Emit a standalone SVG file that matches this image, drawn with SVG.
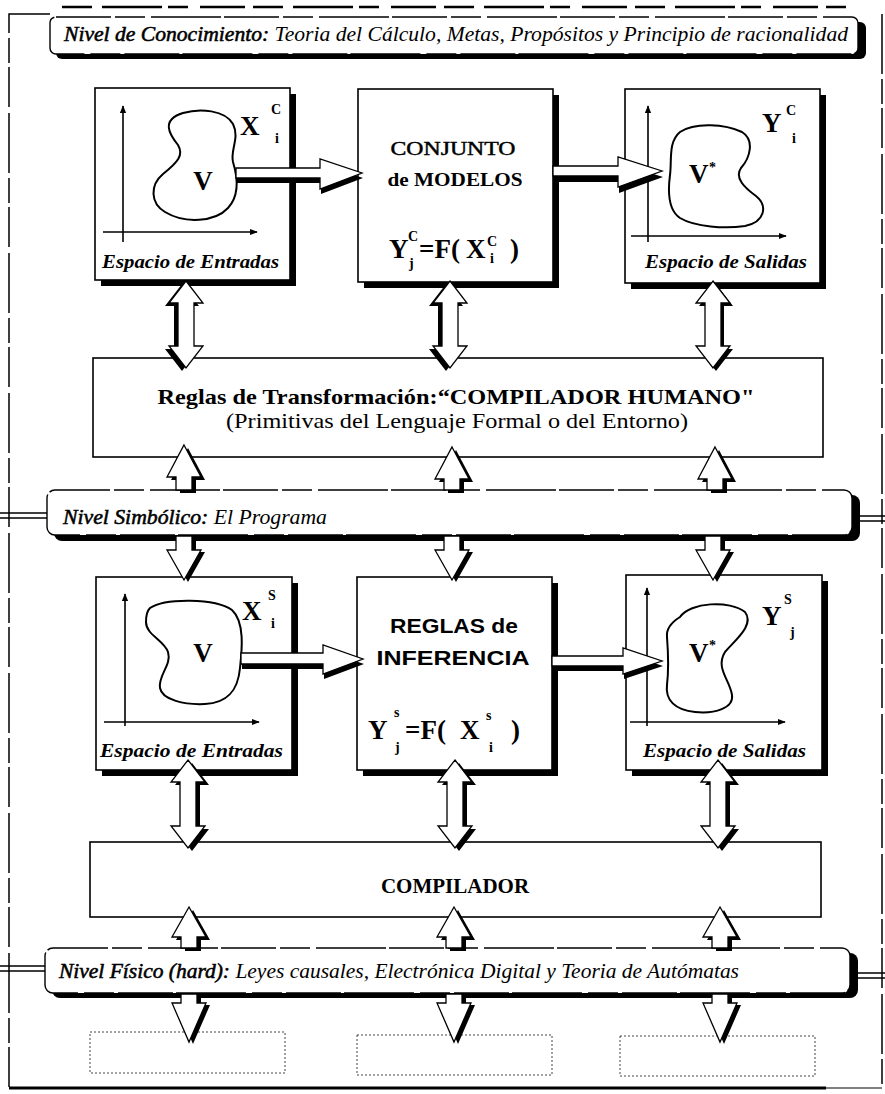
<svg xmlns="http://www.w3.org/2000/svg" width="885" height="1094" viewBox="0 0 885 1094">
  <defs>
    <style>
      .frame { fill: none; stroke: #000; stroke-width: 1.5; stroke-dasharray: 60 5 25 4 40 6; }
      .box { fill: #fff; stroke: #000; stroke-width: 1.6; }
      .shadow { fill: #000; }
      .rule { fill: #fff; stroke: #000; stroke-width: 1.6; }
      .dotted { fill: none; stroke: #444; stroke-width: 1; stroke-dasharray: 2 2; }
      .band { fill: #fff; stroke: #000; stroke-width: 1.4; stroke-dasharray: 55 4 30 6 70 3; }
      .axis { stroke: #000; stroke-width: 1.6; fill: none; }
      .blob { fill: #fff; stroke: #000; stroke-width: 2; }
      .arrow { fill: #fff; stroke: #000; stroke-width: 1.3; stroke-linejoin: miter; }
      .arrow-sh { fill: #000; }
      .link { stroke: #000; stroke-width: 1.5; fill: none; }
      .lvl { font-family: "Liberation Serif", serif; font-style: italic; font-size: 21px; }
      .lvl .h { stroke: #000; stroke-width: 0.55px; }
      .cap { font-family: "Liberation Serif", serif; font-style: italic; font-weight: bold; font-size: 18px; }
      .sym { font-family: "Liberation Serif", serif; font-weight: bold; font-size: 27px; }
      .idx { font-family: "Liberation Serif", serif; font-weight: bold; font-size: 14px; }
      .title { font-family: "Liberation Serif", serif; font-size: 19px; text-anchor: middle; }
      .semi { stroke: #000; stroke-width: 0.45px; }
      .sans { font-family: "Liberation Sans", sans-serif; font-weight: bold; font-size: 21px; text-anchor: middle; }
      .rtxt { font-family: "Liberation Serif", serif; font-size: 21px; text-anchor: middle; }
    </style>
    <marker id="ah" viewBox="0 0 10 10" refX="9" refY="5" markerWidth="5" markerHeight="5" orient="auto">
      <path d="M0,1 L10,5 L0,9 Z" fill="#000"/>
    </marker>
  </defs>

  <rect width="885" height="1094" fill="#fff"/>

  <!-- outer frame -->
  <g id="frame">
    <path class="frame" d="M50,14 H9 V1088"/>
    <path d="M9,1088 H826" stroke="#000" stroke-width="3"/>
    <path d="M826,1088 H882" stroke="#000" stroke-width="1.2"/>
    <path class="frame" d="M882,14 V1088" stroke-width="1"/>
    <path d="M62,7 H846" stroke="#000" stroke-width="2.5" stroke-dasharray="30 10 60 6 20 12 45 8"/>
    <!-- double rails that tie the level bands to the frame -->
    <path class="link" d="M0,513 H47 M0,518 H47"/>
    <path class="link" d="M860,516 H885 M860,521 H885"/>
    <path class="link" d="M0,966 H45 M0,971 H45"/>
    <path class="link" d="M858,973 H885 M858,978 H885"/>
  </g>

  <!-- level bands -->
  <g id="level-knowledge">
    <rect class="shadow" x="56" y="22" width="810" height="37" rx="6"/>
    <rect class="band" x="50" y="17" width="808" height="37" rx="6"/>
    <text class="lvl" x="64" y="41" textLength="784" lengthAdjust="spacingAndGlyphs"><tspan class="h">Nivel de Conocimiento:</tspan> Teoria del Cálculo, Metas, Propósitos y Principio de racionalidad</text>
  </g>

  <g id="level-symbolic">
    <rect class="shadow" x="54" y="495" width="806" height="46" rx="8"/>
    <rect class="band" x="47" y="490" width="805" height="45" rx="8"/>
    <text class="lvl" x="63" y="524" textLength="264" lengthAdjust="spacingAndGlyphs"><tspan class="h">Nivel Simbólico:</tspan> El Programa</text>
  </g>

  <g id="level-physical">
    <rect class="shadow" x="52" y="953" width="806" height="45" rx="8"/>
    <rect class="band" x="45" y="948" width="805" height="45" rx="8"/>
    <text class="lvl" x="59" y="978" textLength="680" lengthAdjust="spacingAndGlyphs"><tspan class="h">Nivel Físico (hard):</tspan> Leyes causales, Electrónica Digital y Teoria de Autómatas</text>
  </g>

  <!-- row 1: knowledge level -->
  <g id="input-space-c">
    <rect class="shadow" x="101" y="94" width="195" height="192"/>
    <rect class="box" x="95" y="88" width="195" height="192"/>
    <path class="axis" d="M123,242 V106" marker-end="url(#ah)"/>
    <path class="axis" d="M103,232 H257" marker-end="url(#ah)"/>
    <path class="blob" d="M183,113 C200,108 225,110 233,124 C240,138 230,150 233,162 C237,175 240,195 228,208 C215,222 185,224 165,212 C150,203 150,185 163,174 C178,162 184,155 178,145 C170,135 160,120 183,113 Z"/>
    <text class="sym" x="203" y="190" text-anchor="middle">V</text>
    <text class="sym" x="240" y="135">X</text>
    <text class="idx" x="271" y="114">C</text>
    <text class="idx" x="275" y="143">i</text>
    <text class="cap" x="102" y="268" textLength="177" lengthAdjust="spacingAndGlyphs">Espacio de Entradas</text>
  </g>

  <g id="model-set">
    <rect class="shadow" x="364" y="95" width="195" height="193"/>
    <rect class="box" x="358" y="89" width="195" height="193"/>
    <text class="title semi" x="453" y="155" textLength="125" lengthAdjust="spacingAndGlyphs">CONJUNTO</text>
    <text class="title" x="455" y="186" font-weight="bold" textLength="135" lengthAdjust="spacingAndGlyphs">de MODELOS</text>
    <text class="sym" x="389" y="258" font-size="26">Y</text>
    <text class="idx" x="408" y="241">C</text>
    <text class="idx" x="409" y="268">j</text>
    <text class="sym" x="419" y="258" font-size="26">=F(</text>
    <text class="sym" x="466" y="258" font-size="26">X</text>
    <text class="idx" x="487" y="246">C</text>
    <text class="idx" x="490" y="263">i</text>
    <text class="sym" x="510" y="258" font-size="26">)</text>
  </g>

  <g id="output-space-c">
    <rect class="shadow" x="631" y="95" width="195" height="194"/>
    <rect class="box" x="625" y="89" width="195" height="194"/>
    <path class="axis" d="M648,242 V106" marker-end="url(#ah)"/>
    <path class="axis" d="M631,236 H786" marker-end="url(#ah)"/>
    <path class="blob" d="M680,132 C695,122 725,124 742,132 C755,140 750,158 741,168 C734,178 745,188 756,196 C768,206 765,222 745,226 C725,229 695,227 680,218 C668,210 668,190 670,175 C672,160 668,142 680,132 Z"/>
    <text class="sym" x="689" y="183">V</text>
    <text class="idx" x="709" y="172">*</text>
    <text class="sym" x="762" y="132">Y</text>
    <text class="idx" x="786" y="115">C</text>
    <text class="idx" x="792" y="143">i</text>
    <text class="cap" x="645" y="268" textLength="162" lengthAdjust="spacingAndGlyphs">Espacio de Salidas</text>
  </g>

  <g id="human-compiler">
    <rect class="rule" x="93" y="358" width="730" height="99"/>
    <text class="rtxt" x="456" y="404" font-weight="bold" textLength="597" lengthAdjust="spacingAndGlyphs">Reglas de Transformación:“COMPILADOR HUMANO"</text>
    <text class="rtxt" x="457" y="428" textLength="462" lengthAdjust="spacingAndGlyphs">(Primitivas del Lenguaje Formal o del Entorno)</text>
  </g>

  <!-- row 2: symbolic level -->
  <g id="input-space-s">
    <rect class="shadow" x="102" y="583" width="196" height="193"/>
    <rect class="box" x="96" y="577" width="196" height="193"/>
    <path class="axis" d="M125,726 V594" marker-end="url(#ah)"/>
    <path class="axis" d="M104,722 H259" marker-end="url(#ah)"/>
    <path class="blob" d="M150,608 C165,598 215,598 232,610 C245,622 242,650 240,668 C238,690 228,703 205,704 C185,705 162,700 160,688 C158,675 172,665 168,652 C164,640 146,635 146,622 C146,615 147,611 150,608 Z"/>
    <text class="sym" x="203" y="662" text-anchor="middle">V</text>
    <text class="sym" x="242" y="620">X</text>
    <text class="idx" x="268" y="600">S</text>
    <text class="idx" x="271" y="628">i</text>
    <text class="cap" x="100" y="757" textLength="183" lengthAdjust="spacingAndGlyphs">Espacio de Entradas</text>
  </g>

  <g id="inference-rules">
    <rect class="shadow" x="363" y="583" width="195" height="193"/>
    <rect class="box" x="357" y="577" width="195" height="193"/>
    <text class="sans" x="454" y="633" textLength="128" lengthAdjust="spacingAndGlyphs">REGLAS de</text>
    <text class="sans" x="453" y="665" textLength="153" lengthAdjust="spacingAndGlyphs">INFERENCIA</text>
    <text class="sym" x="368" y="739" font-size="32">Y</text>
    <text class="idx" x="394" y="717" font-size="16">s</text>
    <text class="idx" x="395" y="752" font-size="16">j</text>
    <text class="sym" x="405" y="739" font-size="32">=F(</text>
    <text class="sym" x="460" y="739" font-size="32">X</text>
    <text class="idx" x="486" y="720" font-size="16">s</text>
    <text class="idx" x="489" y="752" font-size="16">i</text>
    <text class="sym" x="511" y="739" font-size="32">)</text>
  </g>

  <g id="output-space-s">
    <rect class="shadow" x="632" y="581" width="196" height="195"/>
    <rect class="box" x="626" y="575" width="196" height="195"/>
    <path class="axis" d="M647,726 V588" marker-end="url(#ah)"/>
    <path class="axis" d="M630,722 H785" marker-end="url(#ah)"/>
    <path class="blob" d="M680,617 C690,602 730,600 745,612 C755,625 735,640 725,652 C715,668 730,680 732,695 C734,708 715,714 695,712 C675,710 665,700 667,685 C669,668 668,650 667,637 C666,628 672,622 680,617 Z"/>
    <text class="sym" x="689" y="662">V</text>
    <text class="idx" x="709" y="650">*</text>
    <text class="sym" x="762" y="625">Y</text>
    <text class="idx" x="784" y="604">S</text>
    <text class="idx" x="790" y="637">j</text>
    <text class="cap" x="643" y="757" textLength="163" lengthAdjust="spacingAndGlyphs">Espacio de Salidas</text>
  </g>

  <g id="compiler">
    <rect class="rule" x="90" y="842" width="731" height="75"/>
    <text class="rtxt" x="455" y="893" font-weight="bold" font-size="22">COMPILADOR</text>
  </g>

  <!-- physical level placeholders -->
  <g id="hw-1"><rect class="dotted" x="90" y="1032" width="195" height="41"/></g>
  <g id="hw-2"><rect class="dotted" x="357" y="1035" width="195" height="40"/></g>
  <g id="hw-3"><rect class="dotted" x="620" y="1036" width="195" height="40"/></g>

  <!-- connectors -->
  <g id="connectors">
    <!-- horizontal block arrows -->
    <path class="arrow-sh" transform="translate(1,5)" d="M236,168 H320 V159 L362,173 L320,189 V178 H236 Z"/>
    <path class="arrow" d="M236,168 H320 V159 L362,173 L320,189 V178 H236 Z"/>
    <path class="arrow-sh" transform="translate(1,6)" d="M553,166 H618 V157 L662,171 L618,187 V176 H553 Z"/>
    <path class="arrow" d="M553,166 H618 V157 L662,171 L618,187 V176 H553 Z"/>
    <path class="arrow-sh" transform="translate(1,5)" d="M241,653 H323 V645 L363,659 L323,674 V664 H241 Z"/>
    <path class="arrow" d="M241,653 H323 V645 L363,659 L323,674 V664 H241 Z"/>
    <path class="arrow-sh" transform="translate(1,5)" d="M552,656 H623 V648 L662,661 L623,674 V666 H552 Z"/>
    <path class="arrow" d="M552,656 H623 V648 L662,661 L623,674 V666 H552 Z"/>

    <!-- row 1 to transformation rules -->
    <path class="arrow-sh" transform="translate(-4,3)" d="M186,281 L203,303 L194,303 L194,346 L203,346 L186,368 L169,346 L178,346 L178,303 L169,303 Z"/>
    <path class="arrow" d="M186,281 L203,303 L194,303 L194,346 L203,346 L186,368 L169,346 L178,346 L178,303 L169,303 Z"/>
    <path class="arrow-sh" transform="translate(-4,3)" d="M450,281 L467,303 L458,303 L458,346 L467,346 L450,368 L433,346 L442,346 L442,303 L433,303 Z"/>
    <path class="arrow" d="M450,281 L467,303 L458,303 L458,346 L467,346 L450,368 L433,346 L442,346 L442,303 L433,303 Z"/>
    <path class="arrow-sh" transform="translate(3,3)" d="M713,281 L730,303 L721,303 L721,346 L730,346 L713,368 L696,346 L705,346 L705,303 L696,303 Z"/>
    <path class="arrow" d="M713,281 L730,303 L721,303 L721,346 L730,346 L713,368 L696,346 L705,346 L705,303 L696,303 Z"/>

    <!-- symbolic band up to transformation rules -->
    <path class="arrow-sh" transform="translate(4,3)" d="M184,445 L201,477 L192,477 L192,490 L176,490 L176,477 L167,477 Z"/>
    <path class="arrow" d="M184,445 L201,477 L192,477 L192,490 L176,490 L176,477 L167,477 Z"/>
    <path class="arrow-sh" transform="translate(4,3)" d="M452,447 L469,479 L460,479 L460,490 L444,490 L444,479 L435,479 Z"/>
    <path class="arrow" d="M452,447 L469,479 L460,479 L460,490 L444,490 L444,479 L435,479 Z"/>
    <path class="arrow-sh" transform="translate(4,3)" d="M715,447 L732,479 L723,479 L723,490 L707,490 L707,479 L698,479 Z"/>
    <path class="arrow" d="M715,447 L732,479 L723,479 L723,490 L707,490 L707,479 L698,479 Z"/>

    <!-- symbolic band down to row 2 -->
    <path class="arrow-sh" transform="translate(4,2)" d="M176,536 L192,536 L192,550 L201,550 L184,580 L167,550 L176,550 Z"/>
    <path class="arrow" d="M176,536 L192,536 L192,550 L201,550 L184,580 L167,550 L176,550 Z"/>
    <path class="arrow-sh" transform="translate(4,2)" d="M444,536 L460,536 L460,550 L469,550 L452,580 L435,550 L444,550 Z"/>
    <path class="arrow" d="M444,536 L460,536 L460,550 L469,550 L452,580 L435,550 L444,550 Z"/>
    <path class="arrow-sh" transform="translate(4,2)" d="M705,536 L721,536 L721,550 L730,550 L713,580 L696,550 L705,550 Z"/>
    <path class="arrow" d="M705,536 L721,536 L721,550 L730,550 L713,580 L696,550 L705,550 Z"/>

    <!-- row 2 to compiler -->
    <path class="arrow-sh" transform="translate(4,3)" d="M188,760 L205,782 L196,782 L196,826 L205,826 L188,848 L171,826 L180,826 L180,782 L171,782 Z"/>
    <path class="arrow" d="M188,760 L205,782 L196,782 L196,826 L205,826 L188,848 L171,826 L180,826 L180,782 L171,782 Z"/>
    <path class="arrow-sh" transform="translate(4,3)" d="M455,760 L472,782 L463,782 L463,826 L472,826 L455,848 L438,826 L447,826 L447,782 L438,782 Z"/>
    <path class="arrow" d="M455,760 L472,782 L463,782 L463,826 L472,826 L455,848 L438,826 L447,826 L447,782 L438,782 Z"/>
    <path class="arrow-sh" transform="translate(4,3)" d="M718,760 L735,782 L726,782 L726,826 L735,826 L718,848 L701,826 L710,826 L710,782 L701,782 Z"/>
    <path class="arrow" d="M718,760 L735,782 L726,782 L726,826 L735,826 L718,848 L701,826 L710,826 L710,782 L701,782 Z"/>

    <!-- physical band up to compiler -->
    <path class="arrow-sh" transform="translate(4,3)" d="M189,907 L206,937 L197,937 L197,948 L181,948 L181,937 L172,937 Z"/>
    <path class="arrow" d="M189,907 L206,937 L197,937 L197,948 L181,948 L181,937 L172,937 Z"/>
    <path class="arrow-sh" transform="translate(4,3)" d="M454,907 L471,937 L462,937 L462,948 L446,948 L446,937 L437,937 Z"/>
    <path class="arrow" d="M454,907 L471,937 L462,937 L462,948 L446,948 L446,937 L437,937 Z"/>
    <path class="arrow-sh" transform="translate(4,3)" d="M720,907 L737,937 L728,937 L728,948 L712,948 L712,937 L703,937 Z"/>
    <path class="arrow" d="M720,907 L737,937 L728,937 L728,948 L712,948 L712,937 L703,937 Z"/>

    <!-- physical band down to hardware -->
    <path class="arrow-sh" transform="translate(4,2)" d="M181,994 L197,994 L197,1003 L206,1003 L189,1042 L172,1003 L181,1003 Z"/>
    <path class="arrow" d="M181,994 L197,994 L197,1003 L206,1003 L189,1042 L172,1003 L181,1003 Z"/>
    <path class="arrow-sh" transform="translate(4,2)" d="M446,994 L462,994 L462,1003 L471,1003 L454,1042 L437,1003 L446,1003 Z"/>
    <path class="arrow" d="M446,994 L462,994 L462,1003 L471,1003 L454,1042 L437,1003 L446,1003 Z"/>
    <path class="arrow-sh" transform="translate(4,2)" d="M712,994 L728,994 L728,1003 L737,1003 L720,1042 L703,1003 L712,1003 Z"/>
    <path class="arrow" d="M712,994 L728,994 L728,1003 L737,1003 L720,1042 L703,1003 L712,1003 Z"/>
  </g>
</svg>
